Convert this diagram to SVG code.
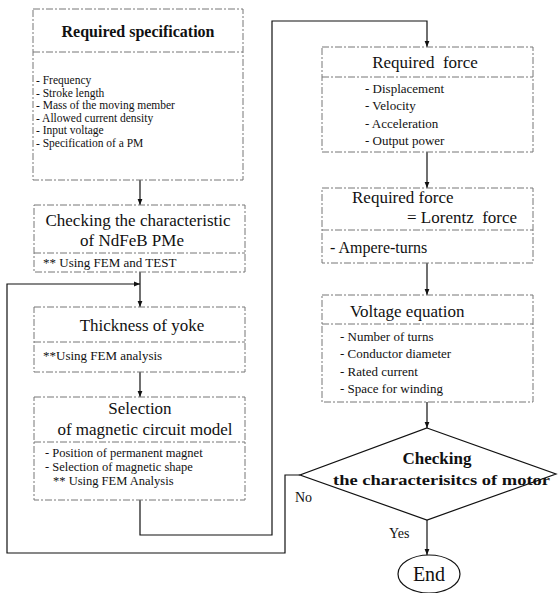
<svg xmlns="http://www.w3.org/2000/svg" width="558" height="593" viewBox="0 0 558 593">
<defs>
<marker id="arr" viewBox="0 0 10 10" refX="10" refY="5" markerWidth="6" markerHeight="6" orient="auto" markerUnits="userSpaceOnUse">
<path d="M0,1 L10,5 L0,9 Z" fill="#111"/>
</marker>
</defs>
<style>
.box{fill:#fff;stroke:#777;stroke-width:1;stroke-dasharray:7 2 2 2}
.div{stroke:#777;stroke-width:1;stroke-dasharray:7 2 2 2;fill:none}
.conn{fill:none;stroke:#111;stroke-width:1.2}
.t{font-family:"Liberation Serif","Times New Roman",serif;fill:#111}
.title{font-size:17px}
.tb{font-size:16px;font-weight:bold}
.item{font-size:11.5px}
.item13{font-size:13px}
.item12{font-size:12.5px}
.mid{text-anchor:middle}
</style>
<rect width="558" height="593" fill="#fff"/>
<g id="connectors">
<path class="conn" d="M140,180 V205" marker-end="url(#arr)"/>
<path class="conn" d="M140,272 V307" marker-end="url(#arr)"/>
<path class="conn" d="M300,475 H285 V553 H7 V284 H140" marker-end="url(#arr)"/>
<path class="conn" d="M140,372 V397" marker-end="url(#arr)"/>
<path class="conn" d="M140,500 V535 H272 V21 H427 V47" marker-end="url(#arr)"/>
<path class="conn" d="M427,152 V188" marker-end="url(#arr)"/>
<path class="conn" d="M427,263 V295" marker-end="url(#arr)"/>
<path class="conn" d="M427,402 V428" marker-end="url(#arr)"/>
<path class="conn" d="M427,520 V555" marker-end="url(#arr)"/>
</g>
<g id="required-specification">
<rect class="box" x="33" y="9" width="210" height="171"/>
<line class="div" x1="33" y1="52" x2="243" y2="52"/>
<text class="t tb mid" x="138" y="37">Required specification</text>
<text class="t item" x="36" y="84">- Frequency</text>
<text class="t item" x="36" y="96.5">- Stroke length</text>
<text class="t item" x="36" y="109">- Mass of the moving member</text>
<text class="t item" x="36" y="121.5">- Allowed current density</text>
<text class="t item" x="36" y="134">- Input voltage</text>
<text class="t item" x="36" y="146.5">- Specification of a PM</text>
</g>
<g id="checking-ndfeb">
<rect class="box" x="34" y="205" width="211" height="67"/>
<line class="div" x1="34" y1="253" x2="245" y2="253"/>
<text class="t title mid" x="138" y="226">Checking the characteristic</text>
<text class="t title mid" x="132" y="246">of NdFeB PMe</text>
<text class="t item13" x="43" y="267">** Using FEM and TEST</text>
</g>
<g id="thickness-of-yoke">
<rect class="box" x="34" y="307" width="211" height="65"/>
<line class="div" x1="34" y1="342" x2="245" y2="342"/>
<text class="t title mid" x="142" y="331">Thickness of yoke</text>
<text class="t item13" x="43" y="360">**Using FEM analysis</text>
</g>
<g id="magnetic-circuit-model">
<rect class="box" x="34" y="397" width="211" height="103"/>
<line class="div" x1="34" y1="442" x2="245" y2="442"/>
<text class="t title mid" x="140" y="414">Selection</text>
<text class="t title mid" x="145" y="435">of magnetic circuit model</text>
<text class="t item12" x="45" y="457">- Position of permanent magnet</text>
<text class="t item12" x="45" y="471">- Selection of magnetic shape</text>
<text class="t item12" x="53" y="485">** Using FEM Analysis</text>
</g>
<g id="required-force">
<rect class="box" x="322" y="47" width="211" height="105"/>
<line class="div" x1="322" y1="77" x2="533" y2="77"/>
<text class="t title mid" x="425" y="68" xml:space="preserve">Required  force</text>
<text class="t item13" x="365" y="93">- Displacement</text>
<text class="t item13" x="365" y="110">- Velocity</text>
<text class="t item13" x="365" y="128">- Acceleration</text>
<text class="t item13" x="365" y="145">- Output power</text>
</g>
<g id="lorentz-force">
<rect class="box" x="322" y="188" width="211" height="75"/>
<line class="div" x1="322" y1="230" x2="533" y2="230"/>
<text class="t title" x="352" y="203">Required force</text>
<text class="t title" x="407" y="223" xml:space="preserve">= Lorentz  force</text>
<text class="t" style="font-size:16px" x="330" y="253">- Ampere-turns</text>
</g>
<g id="voltage-equation">
<rect class="box" x="322" y="295" width="211" height="107"/>
<line class="div" x1="322" y1="324" x2="533" y2="324"/>
<text class="t title" x="350" y="317">Voltage equation</text>
<text class="t item13" x="340" y="341">- Number of turns</text>
<text class="t item13" x="340" y="358">- Conductor diameter</text>
<text class="t item13" x="340" y="376">- Rated current</text>
<text class="t item13" x="340" y="393">- Space for winding</text>
</g>
<g id="checking-motor">
<polygon points="427,428 556,474 427,520 300,475" fill="#fff" stroke="#111" stroke-width="1.2"/>
<text class="t mid" style="font-size:17px;font-weight:bold" x="437" y="464">Checking</text>
<text class="t" style="font-size:15px;font-weight:bold" x="333" y="485" textLength="217" lengthAdjust="spacingAndGlyphs">the characterisitcs of motor</text>
</g>
<text class="t" style="font-size:14px" x="295" y="502">No</text>
<text class="t" style="font-size:14px" x="389" y="538">Yes</text>
<g id="end">
<ellipse cx="429" cy="574" rx="31" ry="19" fill="#fff" stroke="#111" stroke-width="1.2"/>
<text class="t mid" style="font-size:20px" x="429" y="581">End</text>
</g>
</svg>
